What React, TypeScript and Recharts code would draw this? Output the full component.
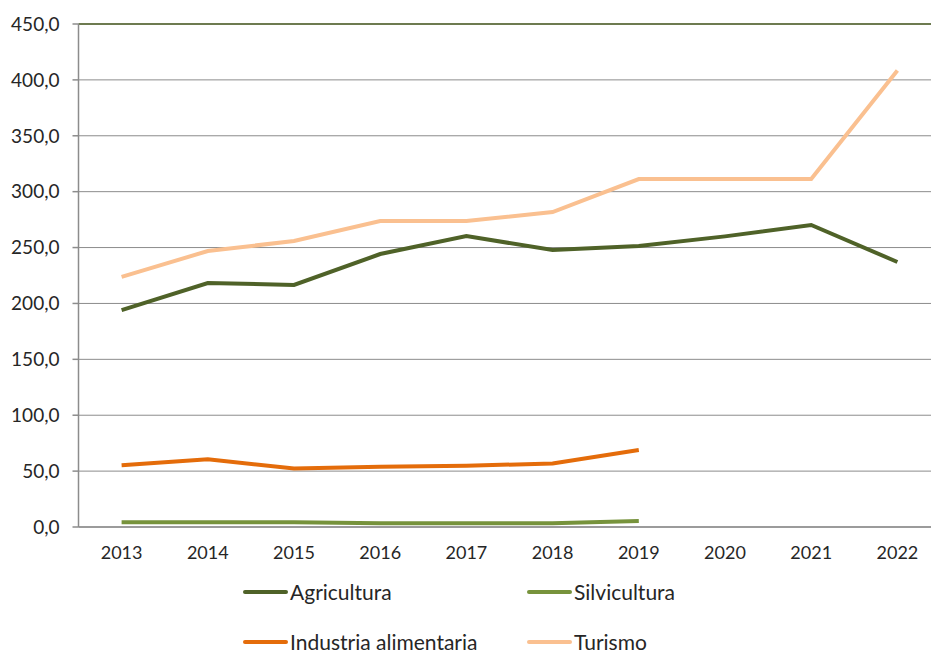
import React from 'react';
import { LineChart, Line, XAxis, YAxis, CartesianGrid, ReferenceLine } from 'recharts';

const years = ['2013', '2014', '2015', '2016', '2017', '2018', '2019', '2020', '2021', '2022'];
const agricultura = [194.1, 218.3, 216.5, 244.2, 260.3, 247.8, 251.4, 260.0, 270.2, 237.1];
const silvicultura: (number | null)[] = [4.2, 4.2, 4.2, 3.3, 3.3, 3.3, 5.4, null, null, null];
const industria: (number | null)[] = [55.3, 60.6, 52.3, 53.9, 54.8, 56.8, 68.9, null, null, null];
const turismo = [223.7, 246.9, 255.9, 273.7, 273.7, 281.8, 311.3, 311.3, 311.3, 408.4];
const yTicks = [0, 50, 100, 150, 200, 250, 300, 350, 400, 450];
const boundaryTicks = [0, 1, 2, 3, 4, 5, 6, 7, 8, 9, 10];

const series = [
  { key: 'agricultura', name: 'Agricultura', color: '#4F6228' },
  { key: 'silvicultura', name: 'Silvicultura', color: '#77933C' },
  { key: 'industria', name: 'Industria alimentaria', color: '#E46C0A' },
  { key: 'turismo', name: 'Turismo', color: '#FAC090' },
];

const data = years.map((y, i) => ({
  year: y,
  agricultura: agricultura[i],
  silvicultura: silvicultura[i],
  industria: industria[i],
  turismo: turismo[i],
}));

const FONT = 'Lato, "Open Sans", sans-serif';
const fmt = (v: number) => v.toFixed(1).replace('.', ',');

const legendPos = [
  { left: 243, top: 582 },
  { left: 527, top: 582 },
  { left: 243, top: 632 },
  { left: 527, top: 632 },
];

export default function App() {
  return (
    <div style={{ position: 'absolute', left: 0, top: 0, width: 931, height: 650, overflow: 'hidden', background: '#fff', fontFamily: FONT }}>
      <LineChart
        width={950}
        height={650}
        data={data}
        margin={{ top: 24, right: 9.5, left: 0.5, bottom: 82 }}
      >
        <CartesianGrid vertical={false} xAxisId="b_cat" horizontalValues={yTicks} stroke="#8c8c8c" strokeWidth={1} />
        <XAxis
          xAxisId="a_edges"
          type="number"
          domain={[0, 10]}
          ticks={boundaryTicks}
          tick={false}
          tickSize={6}
          axisLine={{ stroke: '#8c8c8c', strokeWidth: 1.5 }}
          tickLine={{ stroke: '#8c8c8c', strokeWidth: 1.5 }}
          height={1}
        />
        <XAxis
          dataKey="year"
          xAxisId="b_cat"
          axisLine={false}
          tickLine={false}
          padding={{ left: 43.1, right: 43.1 }}
          tick={{ fill: '#262626', fontSize: 18, fontFamily: FONT }}
          dy={10}
          interval={0}
          height={40}
        />
        <YAxis
          width={78}
          domain={[0, 450]}
          ticks={yTicks}
          tickFormatter={fmt}
          tickSize={6}
          axisLine={{ stroke: '#8c8c8c', strokeWidth: 1.5 }}
          tickLine={{ stroke: '#8c8c8c', strokeWidth: 1.5 }}
          tick={{ fill: '#262626', fontSize: 19, fontFamily: FONT }}
          dx={-11}
          interval={0}
        />
        <ReferenceLine y={450} xAxisId="b_cat" stroke="#4F6228" strokeWidth={1.5} />
        {series.map((s) => (
          <Line
            key={s.key}
            xAxisId="b_cat"
            dataKey={s.key}
            name={s.name}
            stroke={s.color}
            strokeWidth={4}
            dot={false}
            activeDot={false}
            isAnimationActive={false}
          />
        ))}
      </LineChart>
      {series.map((s, i) => (
        <div
          key={s.key}
          style={{
            position: 'absolute',
            left: legendPos[i].left,
            top: legendPos[i].top,
            display: 'flex',
            alignItems: 'center',
            height: 20,
            lineHeight: '20px',
            fontSize: 21,
            color: '#262626',
            fontFamily: FONT,
            whiteSpace: 'nowrap',
          }}
        >
          <span style={{ display: 'inline-block', width: 45, height: 4, background: s.color, borderRadius: 2, marginRight: 2 }} />
          <span>{s.name}</span>
        </div>
      ))}
    </div>
  );
}
